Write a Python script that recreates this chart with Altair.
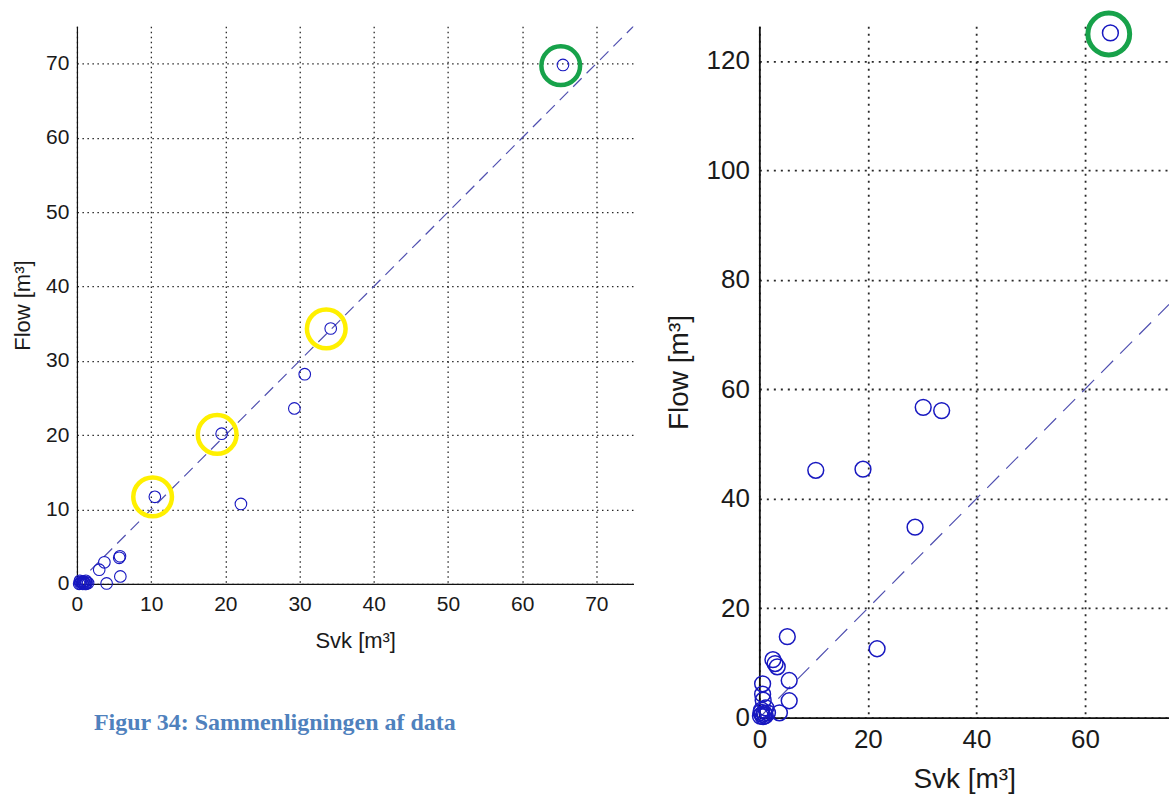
import altair as alt
import pandas as pd

# ---------------- data ----------------
# Left panel: Svk vs Flow
svk_left = [65.5, 34.2, 30.7, 29.3, 19.5, 22.1, 10.5, 5.8, 5.7, 3.7, 3.0, 5.85, 4.0,
            0.3, 0.5, 0.7, 0.9, 1.1, 1.3, 1.5, 0.4, 0.8, 1.0, 1.2, 0.6, 0.45, 0.85, 1.25]
flow_left = [69.8, 34.35, 28.2, 23.6, 20.2, 10.75, 11.7, 3.7, 3.5, 2.9, 1.9, 1.0, 0.05,
             0.0, 0.2, 0.1, 0.3, 0.0, 0.2, 0.1, 0.4, 0.0, 0.1, 0.4, 0.3, 0.05, 0.25, 0.0]

# Right panel: Svk vs Flow
svk_right = [64.7, 30.2, 33.6, 10.4, 19.1, 28.7, 21.7, 5.15, 2.5, 2.9, 3.3, 5.5, 5.5,
             3.7, 0.6, 0.6, 0.7, 1.2, 0.3, 0.5, 0.9, 1.1, 0.2, 0.7, 1.5, 0.4]
flow_right = [125.1, 56.7, 56.1, 45.2, 45.4, 34.8, 12.6, 14.8, 10.6, 9.9, 9.3, 6.8, 3.1,
              0.9, 6.2, 4.3, 3.2, 1.8, 1.0, 0.6, 0.8, 0.4, 0.3, 0.2, 0.9, 1.4]

# Highlight rings
yellow_svk = [10.2, 18.9, 33.6]
yellow_flow = [11.7, 20.1, 34.3]
green_left_svk = [65.2]
green_left_flow = [69.7]
green_right_svk = [64.4]
green_right_flow = [124.9]

# 1:1 reference lines
ref_left = [0, 75]
ref_right = [0, 75.5]

# tick values
ticks_left = [0, 10, 20, 30, 40, 50, 60, 70]
ticks_right_x = [0, 20, 40, 60]
ticks_right_y = [0, 20, 40, 60, 80, 100, 120]

x_title = "Svk [m³]"
y_title = "Flow [m³]"
caption = "Figur 34: Sammenligningen af data"

# ---------------- styling ----------------
FONT = "Liberation Sans"
PT_COLOR = "#1818c0"
LINE_COLOR = "#5050b0"
YELLOW = "#FFF000"
GREEN = "#17A24A"


def axis(values, title, fs, tfs, lpad, tpad, dash, gw, dw):
    return alt.Axis(values=values, title=title, grid=True, gridDash=dash,
                    gridColor="#111111", gridWidth=gw, gridOpacity=0.9,
                    ticks=False, domainColor="#111111", domainWidth=dw,
                    labelFont=FONT, labelFontSize=fs, labelColor="#1a1a1a",
                    labelPadding=lpad, labelFlush=False, labelOverlap=False,
                    titleFont=FONT, titleFontSize=tfs, titleFontWeight="normal",
                    titleColor="#1a1a1a", titlePadding=tpad, format="d")


def panel(svk, flow, ref, rings, xdom, ydom, xt, yt, w, h,
          fs, tfs, xlpad, xtpad, ylpad, ytpad, psize, pstroke, rsize, rstroke,
          dash, gw, dw, ldash, title=None):
    df = pd.DataFrame({"Svk": svk, "Flow": flow})
    xs = alt.Scale(domain=xdom, nice=False, zero=False)
    ys = alt.Scale(domain=ydom, nice=False, zero=False)
    xax = axis(xt, x_title, fs, tfs, xlpad, xtpad, dash, gw, dw)
    yax = axis(yt, y_title, fs, tfs, ylpad, ytpad, dash, gw, dw)

    pts = alt.Chart(df).mark_point(shape="circle", filled=False, size=psize,
                                   strokeWidth=pstroke, color=PT_COLOR, opacity=1,
                                   clip=False).encode(
        x=alt.X("Svk:Q", scale=xs, axis=xax),
        y=alt.Y("Flow:Q", scale=ys, axis=yax))

    rdf = pd.DataFrame({"Svk": ref, "Flow": ref})
    line = alt.Chart(rdf).mark_line(color=LINE_COLOR, strokeWidth=1.2,
                                    strokeDash=ldash, clip=True).encode(
        x="Svk:Q", y="Flow:Q")

    layers = [line, pts]
    for (rx, ry, col) in rings:
        rg = pd.DataFrame({"Svk": rx, "Flow": ry})
        layers.append(alt.Chart(rg).mark_point(shape="circle", filled=False,
                                               size=rsize, strokeWidth=rstroke,
                                               color=col, opacity=1, clip=False).encode(
            x="Svk:Q", y="Flow:Q"))
    ch = alt.layer(*layers).properties(width=w, height=h)
    if title is not None:
        ch = ch.properties(title=title)
    return ch


cap = alt.TitleParams(text=caption, orient="bottom", anchor="start", frame="group",
                      offset=59, dx=17, font="Liberation Serif", fontSize=24,
                      fontWeight="bold", color="#4F81BD")

left = panel(svk_left, flow_left, ref_left,
             [(yellow_svk, yellow_flow, YELLOW), (green_left_svk, green_left_flow, GREEN)],
             [0, 75], [0, 75], ticks_left, ticks_left, 557, 558,
             21, 22, 10, 16, 8, 11, 135, 1.1, 1500, 4.5,
             [1.5, 3.5], 1.3, 1.2, [12, 7], title=cap)

right = panel(svk_right, flow_right, ref_right,
              [(green_right_svk, green_right_flow, GREEN)],
              [0, 75.5], [0, 126.3], ticks_right_x, ticks_right_y, 410, 692,
              26, 28, 9, 13, 10, 13, 250, 1.5, 1750, 5,
              [2, 5], 1.8, 1.8, [17, 10])

chart = alt.hconcat(left, right, spacing=31).properties(
    padding={"left": 11, "top": 2, "right": 0, "bottom": 0},
    background="white"
).configure_view(stroke=None)

chart.save("out.html", embed_options={"renderer": "svg", "actions": False})
